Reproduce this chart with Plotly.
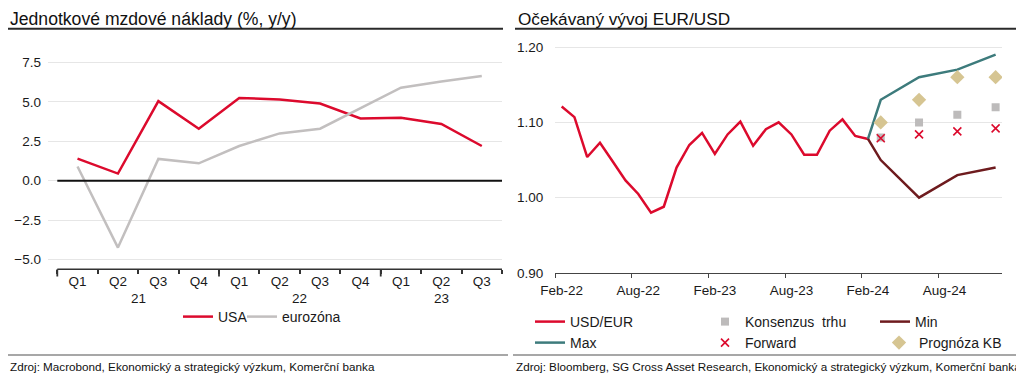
import plotly.graph_objects as go
import pandas as pd

W, H = 1024, 378
OX, OY = 8, 8  # page body margin offset compensation
def px(x): return (x - OX) / W
def py(y): return 1 - (y - OY) / H

FONT = "Liberation Sans, Arial, sans-serif"

# ---------------- Left chart data ----------------
quarters = ["Q1", "Q2", "Q3", "Q4", "Q1", "Q2", "Q3", "Q4", "Q1", "Q2", "Q3"]
years = ["21", "21", "21", "21", "22", "22", "22", "22", "23", "23", "23"]
usa = [1.4, 0.45, 5.05, 3.3, 5.25, 5.15, 4.9, 3.95, 4.0, 3.6, 2.2]
eurozona = [0.9, -4.25, 1.38, 1.1, 2.2, 3.0, 3.3, 4.6, 5.9, 6.3, 6.65]

# ---------------- Right chart data ----------------
months = [m.strftime("%Y-%m") for m in pd.date_range("2022-02-01", "2024-12-01", freq="MS")]
hist_months = months[:25]  # Feb-22 .. Feb-24
usd_eur = [1.121, 1.107, 1.054, 1.073, 1.048, 1.023, 1.005, 0.980, 0.988, 1.040,
           1.070, 1.086, 1.058, 1.084, 1.101, 1.069, 1.091, 1.100, 1.084, 1.057,
           1.057, 1.089, 1.104, 1.082, 1.078]
path_months = ["2024-02", "2024-03", "2024-06", "2024-09", "2024-12"]
max_path = [1.078, 1.13, 1.16, 1.17, 1.19]
min_path = [1.078, 1.05, 1.00, 1.03, 1.04]
point_months = ["2024-03", "2024-06", "2024-09", "2024-12"]
konsenzus = [1.08, 1.10, 1.11, 1.12]
forward = [1.079, 1.084, 1.088, 1.092]
prognoza = [1.10, 1.13, 1.16, 1.16]
tick_months = ["2022-02", "2022-08", "2023-02", "2023-08", "2024-02", "2024-08"]
tick_labels = ["Feb-22", "Aug-22", "Feb-23", "Aug-23", "Feb-24", "Aug-24"]

midx = {m: i for i, m in enumerate(months)}
def mi(lst): return [midx[m] for m in lst]

RED = "#DC0A2D"
GRAY = "#C2BFBF"
TEAL = "#3D7B7C"
MAROON = "#6E1B1E"
SQ = "#BDBBBB"
TAN = "#D6C592"

fig = go.Figure()
qx = list(range(len(quarters)))

fig.add_trace(go.Scatter(x=qx, y=usa, mode="lines", name="USA", showlegend=True,
                         line=dict(color=RED, width=2.5), xaxis="x", yaxis="y", legend="legend"))
fig.add_trace(go.Scatter(x=qx, y=eurozona, mode="lines", name="eurozóna", showlegend=True,
                         line=dict(color=GRAY, width=2.5), xaxis="x", yaxis="y", legend="legend2"))

fig.add_trace(go.Scatter(x=mi(hist_months), y=usd_eur, mode="lines", name="USD/EUR",
                         line=dict(color=RED, width=2.5), xaxis="x2", yaxis="y2", legend="legend3"))
fig.add_trace(go.Scatter(x=mi(path_months), y=max_path, mode="lines", name="Max",
                         line=dict(color=TEAL, width=2.5), xaxis="x2", yaxis="y2", legend="legend4"))
fig.add_trace(go.Scatter(x=mi(path_months), y=min_path, mode="lines", name="Min",
                         line=dict(color=MAROON, width=2.5), xaxis="x2", yaxis="y2", legend="legend5"))
fig.add_trace(go.Scatter(x=mi(point_months), y=konsenzus, mode="markers", name="Konsenzus  trhu",
                         marker=dict(symbol="square", color=SQ, size=8), xaxis="x2", yaxis="y2", legend="legend6"))
fig.add_trace(go.Scatter(x=mi(point_months), y=forward, mode="markers", name="Forward",
                         marker=dict(symbol="x-thin", size=8, line=dict(color=RED, width=1.6)),
                         xaxis="x2", yaxis="y2", legend="legend7"))
fig.add_trace(go.Scatter(x=mi(point_months), y=prognoza, mode="markers", name="Prognóza KB",
                         marker=dict(symbol="diamond", color=TAN, size=11), xaxis="x2", yaxis="y2", legend="legend8"))

tickfont = dict(family=FONT, size=13.5, color="#1a1a1a")
legfont = dict(family=FONT, size=14, color="#1a1a1a")

def leg(text_x, yc):
    return dict(orientation="h", x=px(text_x - 40), xanchor="left", y=py(yc), yanchor="middle",
                font=legfont, bgcolor="rgba(0,0,0,0)")

fig.update_layout(
    width=W, height=H, margin=dict(l=0, r=0, t=0, b=0, autoexpand=False),
    showlegend=True,
    paper_bgcolor="white", plot_bgcolor="white",
    font=dict(family=FONT, color="#1a1a1a"),
    xaxis=dict(domain=[px(48), px(502)], range=[-0.73, 10.5], showgrid=False, zeroline=False,
               tickmode="array", tickvals=qx, ticktext=quarters, ticks="", tickfont=tickfont,
               ticklabelstandoff=2, showline=False, automargin=False,
               minor=dict(ticks="outside", tick0=-0.5, dtick=1, ticklen=4, tickcolor="#333", tickwidth=1.5)),
    yaxis=dict(domain=[py(269.3), py(46)], range=[-5.63, 8.55], dtick=2.5, tick0=0, tickformat=".1f",
               showgrid=True, gridcolor="#E6E6E6", gridwidth=1, zeroline=False, ticks="",
               tickfont=tickfont, ticklabelstandoff=6, anchor="x", automargin=False),
    xaxis2=dict(domain=[px(555.3), px(1002)], range=[-0.5, 34.5], showgrid=False, zeroline=False,
                tickmode="array", tickvals=mi(tick_months), ticktext=tick_labels, ticks="",
                tickfont=tickfont, ticklabelstandoff=5, showline=True, linecolor="#444", linewidth=1.2,
                minor=dict(ticks="outside", tick0=-0.5, dtick=6, ticklen=4, tickcolor="#444", tickwidth=1.2),
                anchor="y2", automargin=False),
    yaxis2=dict(domain=[py(273), py(40)], range=[0.9, 1.2094], dtick=0.1, tick0=0.9, tickformat=".2f",
                showgrid=True, gridcolor="#E6E6E6", gridwidth=1, zeroline=False, ticks="",
                tickfont=tickfont, ticklabelstandoff=11, anchor="x2", automargin=False),
    legend=leg(218, 317),
    legend2=leg(282, 317),
    legend3=leg(570, 322),
    legend4=leg(570, 343),
    legend5=leg(915, 322),
    legend6=leg(745, 322),
    legend7=leg(745, 343),
    legend8=leg(919, 343),
)

shapes = []
# title underlines
shapes.append(dict(type="line", xref="paper", yref="paper", x0=px(5), x1=px(503), y0=py(28.8), y1=py(28.8),
                   line=dict(color="#2a2a2a", width=2)))
shapes.append(dict(type="line", xref="paper", yref="paper", x0=px(515), x1=px(1020), y0=py(28.8), y1=py(28.8),
                   line=dict(color="#2a2a2a", width=2)))
# source separators
shapes.append(dict(type="line", xref="paper", yref="paper", x0=px(0), x1=px(508), y0=py(355), y1=py(355),
                   line=dict(color="#8a8a8a", width=1.5)))
shapes.append(dict(type="line", xref="paper", yref="paper", x0=px(513), x1=px(1024), y0=py(355), y1=py(355),
                   line=dict(color="#8a8a8a", width=1.5)))
# left zero line and bottom axis line
shapes.append(dict(type="line", xref="x", yref="y", x0=-0.5, x1=10.5, y0=0, y1=0,
                   line=dict(color="#111", width=2)))
shapes.append(dict(type="line", xref="x", yref="y domain", x0=-0.5, x1=10.5, y0=0, y1=0,
                   line=dict(color="#333", width=1.5)))
# long ticks at year boundaries
for xb in [-0.5, 3.5, 7.5]:
    shapes.append(dict(type="line", xref="x", yref="paper", x0=xb, x1=xb, y0=py(269.3), y1=py(276.5),
                       line=dict(color="#333", width=1.8)))
fig.update_layout(shapes=shapes)

ann = []
ann.append(dict(text="Jednotkové mzdové náklady (%, y/y)", x=px(8), y=py(18.5), xref="paper", yref="paper",
                xanchor="left", yanchor="middle", showarrow=False, font=dict(family=FONT, size=17.6, color="#111")))
ann.append(dict(text="Očekávaný vývoj EUR/USD", x=px(516), y=py(18.5), xref="paper", yref="paper",
                xanchor="left", yanchor="middle", showarrow=False, font=dict(family=FONT, size=17.2, color="#111")))
# year group labels
for yr in dict.fromkeys(years):
    idxs = [i for i, v in enumerate(years) if v == yr]
    ann.append(dict(text=yr, x=sum(idxs) / len(idxs), y=py(298), xref="x", yref="paper",
                    xanchor="center", yanchor="middle", showarrow=False, font=tickfont))
ann.append(dict(text="Zdroj: Macrobond, Ekonomický a strategický výzkum, Komerční banka", x=px(8), y=py(366.5),
                xref="paper", yref="paper", xanchor="left", yanchor="middle", showarrow=False,
                font=dict(family=FONT, size=11.7, color="#111")))
ann.append(dict(text="Zdroj: Bloomberg, SG Cross Asset Research, Ekonomický a strategický výzkum, Komerční banka",
                x=px(514), y=py(366.5), xref="paper", yref="paper", xanchor="left", yanchor="middle",
                showarrow=False, font=dict(family=FONT, size=11.7, color="#111")))
fig.update_layout(annotations=ann)

fig.write_html("out.html")
